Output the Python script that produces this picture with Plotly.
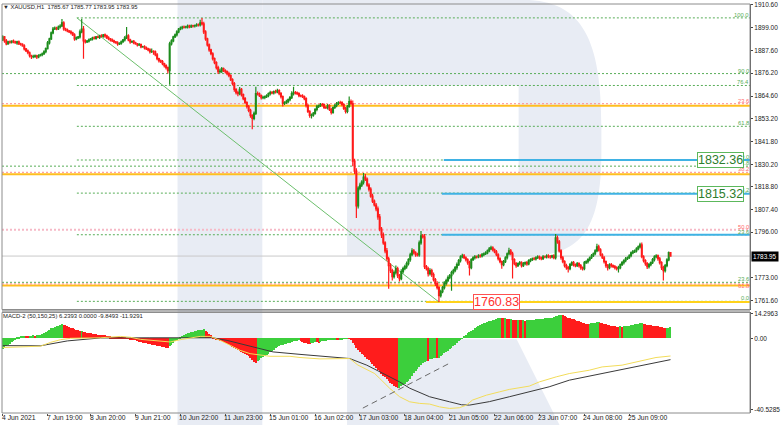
import plotly.graph_objects as go

# ---------------- DATA ----------------
first_open = 1893.0
closes = [
    1894.5, 1892.5, 1891.0, 1892.0, 1891.8, 1892.4, 1892.0, 1891.5, 1892.0, 1891.0,
    1890.8, 1890.0, 1888.5, 1887.5, 1886.5, 1885.0, 1884.5, 1884.6, 1885.0, 1884.4,
    1885.1, 1885.6, 1886.0, 1887.0, 1888.6, 1891.5, 1893.5, 1896.5, 1898.5, 1899.0,
    1898.6, 1899.5, 1900.0, 1901.6, 1898.5, 1898.0, 1897.5, 1897.0, 1896.5, 1895.5,
    1893.5, 1894.0, 1894.5, 1897.0, 1898.5, 1892.5, 1892.0, 1892.4, 1893.0, 1893.5,
    1894.0, 1893.8, 1894.5, 1894.3, 1895.0, 1894.8, 1895.5, 1895.0, 1894.0, 1893.5,
    1893.0, 1892.5, 1892.0, 1891.5, 1891.0, 1891.2, 1892.0, 1893.0, 1894.0, 1895.0,
    1893.0, 1892.0, 1892.2, 1891.5, 1891.0, 1890.5, 1890.6, 1889.5, 1889.6, 1889.0,
    1888.5, 1888.0, 1887.0, 1887.2, 1887.0, 1885.5, 1883.5, 1882.5, 1882.0, 1881.0,
    1880.0, 1879.0, 1877.5, 1891.0, 1892.5, 1894.5, 1895.5, 1897.0, 1898.5, 1899.0,
    1899.5, 1899.4, 1899.6, 1900.0, 1899.6, 1900.1, 1900.0, 1900.2, 1900.6, 1900.5,
    1901.6, 1901.1, 1897.0, 1893.5, 1890.5, 1888.0, 1886.0, 1883.5, 1881.5, 1879.0,
    1877.0, 1877.2, 1878.5, 1877.5, 1877.0, 1876.0, 1875.0, 1873.0, 1871.0, 1868.0,
    1866.4, 1865.9, 1868.0, 1865.4, 1863.4, 1861.4, 1859.4, 1857.4, 1854.9, 1853.4,
    1855.9, 1865.9, 1865.8, 1864.9, 1863.9, 1864.0, 1864.4, 1864.9, 1865.9, 1866.4,
    1866.3, 1866.9, 1866.8, 1867.4, 1865.9, 1864.4, 1860.9, 1861.4, 1861.9, 1862.9,
    1863.9, 1865.9, 1866.4, 1866.3, 1865.9, 1864.9, 1864.8, 1864.4, 1863.4, 1859.9,
    1856.9, 1854.9, 1855.0, 1855.9, 1857.9, 1859.4, 1859.9, 1860.4, 1860.3, 1858.9,
    1858.8, 1859.9, 1857.9, 1856.4, 1858.9, 1859.9, 1860.9, 1861.4, 1861.3, 1860.4,
    1858.4, 1856.9, 1859.4, 1861.9, 1860.9, 1831.8, 1826.8, 1809.2, 1818.2, 1819.7,
    1821.2, 1823.8, 1822.8, 1819.7, 1817.7, 1814.2, 1811.7, 1809.7, 1807.7, 1803.7,
    1797.6, 1794.6, 1790.6, 1786.6, 1782.6, 1779.1, 1776.6, 1773.6, 1775.6, 1777.6,
    1774.1, 1772.6, 1776.1, 1777.6, 1778.6, 1780.1, 1782.1, 1784.6, 1786.6, 1785.6,
    1784.6, 1784.5, 1790.6, 1794.1, 1793.6, 1778.6, 1777.6, 1775.1, 1776.6, 1774.6,
    1772.1, 1770.1, 1768.0, 1764.0, 1766.0, 1768.0, 1770.1, 1771.6, 1773.1, 1774.1,
    1775.6, 1776.6, 1778.1, 1779.6, 1781.6, 1783.6, 1784.1, 1783.1, 1782.1, 1780.6,
    1778.1, 1782.1, 1783.1, 1783.6, 1783.5, 1784.1, 1784.0, 1784.6, 1785.1, 1785.6,
    1786.6, 1787.6, 1788.1, 1787.1, 1786.1, 1784.6, 1782.6, 1781.1, 1779.6, 1781.1,
    1783.1, 1785.1, 1786.6, 1785.1, 1782.1, 1780.1, 1779.1, 1780.1, 1780.6, 1779.1,
    1780.1, 1780.6, 1780.0, 1781.6, 1782.1, 1782.6, 1782.5, 1783.1, 1783.6, 1783.0,
    1782.6, 1783.6, 1783.5, 1784.1, 1783.6, 1783.5, 1784.0, 1783.1, 1793.1, 1791.1,
    1786.6, 1783.1, 1781.1, 1779.1, 1778.1, 1777.6, 1779.6, 1780.6, 1779.6, 1779.1,
    1780.1, 1779.1, 1778.1, 1777.6, 1780.6, 1781.1, 1782.1, 1783.1, 1784.1, 1785.1,
    1786.6, 1788.6, 1787.1, 1784.6, 1783.1, 1781.1, 1779.1, 1778.1, 1779.6, 1779.1,
    1778.6, 1778.1, 1777.6, 1778.1, 1779.6, 1780.6, 1781.6, 1782.6, 1783.1, 1784.1,
    1785.6, 1786.1, 1786.6, 1787.6, 1788.6, 1789.6, 1783.6, 1781.6, 1780.1, 1778.6,
    1779.6, 1780.6, 1782.1, 1783.6, 1784.1, 1782.6, 1780.6, 1778.1, 1776.6, 1779.1,
    1782.0, 1785.67, 1783.95,
]
wick_hi = [
    0.8, 0.5, 0.9, 0.6, 0.7, 0.4, 0.8, 0.6, 0.5, 0.7,
    0.6, 0.5, 0.8, 0.4, 0.6, 0.7, 0.5, 0.9, 0.6, 0.5,
    0.7, 0.4, 0.6, 0.8, 0.5, 0.9, 0.6, 0.7, 1.0, 0.8,
    0.6, 0.7, 0.9, 1.9, 0.8, 0.6, 0.7, 0.5, 0.8, 0.6,
    0.9, 0.7, 0.5, 1.2, 5.1, 1.5, 0.8, 0.6, 0.7, 0.5,
    0.6, 0.8, 0.5, 0.7, 0.6, 0.9, 0.5, 0.7, 0.6, 0.8,
    0.5, 0.7, 0.6, 0.4, 0.8, 0.6, 0.7, 0.5, 0.9, 4.5,
    0.8, 0.6, 0.5, 0.7, 0.6, 0.4, 0.8, 0.6, 0.5, 0.7,
    0.6, 0.5, 0.8, 1.4, 0.6, 0.7, 0.9, 0.5, 0.6, 0.8,
    0.5, 0.7, 0.6, 1.0, 0.8, 0.6, 0.7, 0.9, 0.5, 0.8,
    0.6, 0.7, 0.5, 0.8, 0.6, 0.7, 0.5, 0.6, 0.8, 0.7,
    1.5, 2.5, 1.0, 0.8, 0.6, 0.7, 0.5, 0.8, 0.6, 0.7,
    0.9, 1.2, 0.8, 0.6, 0.7, 0.5, 0.9, 0.6, 0.7, 0.8,
    0.6, 0.9, 1.2, 0.7, 0.5, 0.8, 0.6, 0.7, 0.9, 0.6,
    1.0, 3.5, 1.0, 0.7, 0.6, 0.8, 0.5, 0.7, 0.6, 0.9,
    0.8, 0.6, 0.9, 1.0, 0.7, 0.8, 0.6, 0.7, 0.9, 0.5,
    0.8, 1.2, 3.0, 0.8, 0.6, 0.7, 0.5, 0.8, 0.6, 0.7,
    0.9, 0.6, 0.8, 0.7, 0.6, 0.9, 0.5, 0.8, 0.7, 0.6,
    0.8, 0.7, 0.6, 0.9, 0.5, 0.8, 0.7, 0.6, 0.9, 0.7,
    0.6, 0.8, 0.7, 2.5, 1.0, 1.5, 1.2, 1.5, 1.0, 1.2,
    1.0, 2.0, 1.5, 0.8, 1.0, 0.9, 1.2, 0.8, 1.0, 1.3,
    1.5, 1.0, 1.2, 0.8, 1.4, 1.0, 1.2, 0.9, 1.1, 1.6,
    1.0, 0.8, 1.2, 1.0, 0.9, 1.1, 0.8, 1.0, 1.3, 0.9,
    0.8, 1.0, 1.2, 2.5, 1.0, 1.5, 0.8, 1.0, 1.2, 0.9,
    1.0, 0.8, 1.2, 0.9, 1.0, 0.8, 1.1, 0.9, 1.0, 0.8,
    0.9, 1.0, 0.8, 1.1, 0.9, 0.8, 1.0, 0.9, 0.7, 0.8,
    1.0, 0.8, 0.7, 0.9, 0.6, 0.8, 0.7, 0.9, 0.6, 0.8,
    0.7, 0.9, 1.0, 0.8, 0.6, 0.9, 0.7, 0.8, 0.6, 0.9,
    0.8, 0.7, 1.5, 0.9, 1.0, 0.7, 0.8, 0.6, 0.9, 0.7,
    0.8, 0.6, 0.9, 0.7, 0.8, 0.6, 0.9, 0.7, 0.8, 0.6,
    0.7, 0.9, 0.6, 0.8, 0.7, 0.9, 0.6, 0.8, 2.0, 1.2,
    1.0, 0.8, 0.9, 0.7, 1.0, 0.8, 0.9, 0.7, 0.8, 0.6,
    0.9, 0.7, 0.8, 0.6, 0.9, 0.7, 0.8, 0.6, 0.9, 0.7,
    0.8, 1.5, 1.0, 0.8, 0.7, 0.9, 0.6, 0.8, 0.7, 0.9,
    0.6, 0.8, 0.7, 0.9, 0.6, 0.8, 0.7, 0.9, 0.6, 0.8,
    0.7, 0.9, 0.6, 0.8, 0.7, 1.0, 1.2, 0.8, 0.7, 0.9,
    0.8, 0.6, 0.9, 0.7, 0.8, 0.6, 0.9, 0.7, 1.0, 0.8,
    0.9, 0.6, 0.1,
]
wick_lo = [
    0.6, 0.9, 0.7, 0.5, 0.8, 0.6, 0.7, 0.5, 0.9, 0.6,
    0.7, 0.5, 0.8, 0.6, 0.7, 0.9, 1.2, 0.8, 0.6, 1.0,
    0.7, 0.5, 0.8, 0.6, 0.7, 0.5, 0.8, 0.6, 0.7, 0.5,
    0.8, 0.6, 0.7, 0.5, 0.9, 0.6, 0.7, 0.5, 0.8, 0.6,
    1.0, 0.7, 0.6, 0.8, 0.7, 9.0, 0.8, 0.6, 0.7, 0.5,
    0.8, 0.6, 0.7, 0.5, 0.8, 0.6, 0.7, 0.9, 0.6, 0.7,
    0.8, 0.6, 0.7, 0.5, 0.9, 0.6, 0.7, 0.5, 0.8, 0.6,
    0.7, 0.9, 0.6, 0.7, 0.5, 0.8, 0.6, 0.7, 0.5, 0.8,
    0.6, 0.7, 0.9, 0.6, 1.5, 0.7, 0.8, 0.9, 0.7, 0.8,
    0.9, 1.0, 1.5, 7.1, 0.8, 0.7, 0.6, 0.8, 0.7, 0.6,
    0.8, 0.7, 0.6, 0.8, 0.7, 0.6, 0.8, 0.7, 0.6, 0.8,
    0.7, 0.8, 1.0, 0.9, 0.8, 1.0, 0.7, 0.9, 0.8, 1.0,
    1.2, 0.8, 0.9, 0.7, 1.0, 0.8, 0.9, 0.7, 1.0, 1.2,
    0.9, 1.3, 0.8, 1.0, 0.9, 0.8, 1.0, 0.9, 1.2, 5.5,
    1.0, 0.8, 0.9, 0.7, 1.0, 0.8, 0.9, 0.7, 0.8, 0.9,
    0.7, 0.8, 0.9, 0.7, 0.8, 1.0, 1.5, 0.8, 0.7, 0.9,
    0.8, 0.7, 0.9, 0.8, 0.7, 0.9, 0.8, 0.7, 0.9, 1.0,
    0.8, 1.2, 1.5, 0.8, 0.7, 0.9, 0.8, 0.7, 0.9, 0.8,
    0.7, 0.9, 0.8, 1.0, 0.7, 0.8, 0.9, 0.7, 0.8, 0.9,
    0.8, 1.0, 0.9, 0.7, 0.8, 2.5, 1.5, 6.0, 1.2, 1.0,
    0.9, 1.1, 1.0, 0.8, 1.2, 0.9, 1.0, 0.8, 1.1, 1.4,
    1.2, 1.5, 1.0, 1.3, 1.0, 11.6, 1.2, 2.0, 1.0, 0.9,
    1.2, 1.5, 0.9, 1.0, 0.8, 1.1, 0.9, 1.0, 0.8, 0.9,
    1.0, 0.8, 0.9, 1.0, 0.8, 1.2, 1.0, 1.5, 1.0, 1.2,
    1.0, 1.2, 0.9, 3.17, 1.0, 0.8, 0.9, 1.0, 0.8, 0.9,
    7.6, 0.9, 0.8, 1.0, 0.7, 0.9, 0.8, 0.7, 0.9, 1.0,
    4.0, 0.8, 0.7, 0.9, 0.8, 0.7, 0.9, 0.8, 0.7, 0.6,
    0.8, 0.7, 0.6, 0.9, 0.8, 0.7, 0.9, 0.8, 2.0, 0.8,
    0.7, 0.9, 0.8, 0.7, 9.5, 0.8, 1.0, 0.7, 0.8, 0.9,
    0.7, 0.8, 0.9, 0.7, 0.8, 0.6, 0.7, 0.8, 0.6, 0.9,
    0.8, 0.7, 0.6, 0.8, 0.7, 0.9, 0.6, 0.8, 0.9, 1.0,
    0.9, 1.0, 0.8, 0.9, 1.0, 2.0, 0.8, 0.7, 0.9, 0.8,
    0.7, 0.9, 1.0, 1.0, 0.8, 0.7, 0.9, 0.8, 0.7, 0.6,
    0.8, 0.7, 0.9, 0.8, 0.7, 0.9, 1.0, 1.5, 0.8, 0.9,
    0.7, 0.9, 1.0, 2.0, 0.8, 0.7, 0.9, 0.8, 0.7, 0.6,
    0.8, 0.7, 0.6, 0.8, 0.7, 0.9, 0.8, 0.9, 1.0, 1.2,
    0.9, 0.8, 0.7, 0.9, 0.8, 1.0, 0.9, 1.2, 5.0, 0.9,
    0.8, 0.7, 0.0,
]
macd_hist = [
    -6.0, -5.3, -4.6, -3.8, -3.0, -2.2, -1.4, -0.6, 0.3, 0.9,
    1.3, 1.5, 1.6, 1.5, 1.4, 1.5, 1.6, 1.7, 1.6, 1.8,
    1.9, 2.1, 2.5, 3.0, 3.6, 4.3, 5.0, 5.7, 6.2, 6.7,
    7.0, 7.3, 7.6, 8.0, 7.8, 7.4, 7.0, 6.6, 6.2, 5.8,
    5.3, 4.9, 4.5, 4.2, 4.3, 3.7, 3.4, 3.2, 3.0, 2.8,
    2.6, 2.5, 2.3, 2.2, 2.1, 2.0, 1.9, 1.7, 1.5, 1.3,
    1.1, 1.0, 0.9, 0.8, 0.6, 0.5, 0.4, 0.3, 0.2, 0.1,
    -0.3, -0.5, -0.7, -0.9, -1.1, -1.5, -2.0, -2.3, -2.5, -2.7,
    -2.9, -3.1, -3.4, -3.6, -3.8, -4.0, -4.2, -4.4, -4.6, -4.8,
    -5.0, -5.3, -5.7, -4.5, -3.6, -2.6, -1.6, -0.8, 0.1, 0.8,
    1.4, 2.0, 2.5, 2.9, 3.3, 3.6, 3.9, 4.1, 4.3, 4.5,
    4.7, 4.9, 5.1, 4.3, 3.4, 2.6, 1.8, 0.8, -0.2, -0.6,
    -1.0, -1.3, -1.6, -2.0, -2.4, -3.0, -3.6, -4.2, -4.8, -5.4,
    -6.0, -6.6, -7.3, -7.9, -8.5, -9.1, -9.7, -10.3, -11.0, -12.2,
    -13.5, -14.3, -13.2, -12.3, -11.5, -10.8, -10.1, -9.4, -8.7, -8.0,
    -7.2, -6.4, -5.6, -5.0, -4.2, -3.9, -3.6, -3.3, -3.0, -2.7,
    -2.4, -2.1, -1.8, -1.6, -1.4, -1.2, -1.6, -2.1, -2.5, -2.8,
    -3.0, -3.1, -2.8, -2.4, -2.0, -2.2, -2.5, -2.2, -1.8, -1.5,
    -1.3, -1.1, -1.0, -0.8, -0.7, -0.6, -0.8, -1.0, -0.7, -0.5,
    -0.3, -0.2, -0.1, -0.2, -1.0, -2.6, -4.0, -5.4, -6.5, -7.6,
    -8.7, -9.8, -10.8, -11.8, -12.4, -13.4, -14.6, -15.8, -17.0, -18.2,
    -19.4, -20.4, -21.3, -22.3, -23.4, -24.5, -25.4, -26.3, -27.1, -27.9,
    -28.6, -28.3, -27.6, -26.8, -25.9, -25.1, -24.4, -23.4, -21.8, -20.0,
    -18.7, -17.5, -16.2, -15.2, -14.3, -13.6, -12.8, -13.0, -12.0, -11.6,
    -11.3, -11.1, -11.4, -11.0, -10.2, -9.4, -8.6, -7.8, -7.0, -6.2,
    -5.3, -4.5, -3.6, -2.6, -1.6, -0.7, 0.1, 1.3, 2.1, 2.8,
    3.4, 4.2, 5.0, 5.8, 6.4, 7.0, 7.4, 8.0, 8.6, 9.0,
    9.4, 9.8, 10.1, 10.4, 10.7, 11.1, 11.5, 11.8, 11.6, 11.4,
    11.5, 11.2, 11.0, 11.1, 10.8, 10.7, 10.5, 10.6, 10.4, 10.3,
    10.4, 10.2, 10.3, 10.4, 10.5, 10.6, 10.7, 10.9, 11.0, 11.1,
    11.2, 11.3, 11.4, 11.5, 11.6, 11.7, 11.9, 12.1, 12.6, 13.0,
    13.3, 13.6, 13.2, 12.7, 12.3, 11.9, 11.6, 11.2, 10.9, 10.5,
    10.2, 9.8, 9.4, 9.0, 8.8, 8.5, 8.2, 8.4, 8.6, 8.8,
    9.0, 9.2, 9.3, 9.0, 8.7, 8.4, 8.1, 7.8, 7.6, 7.3,
    7.1, 6.9, 6.7, 6.6, 6.8, 6.7, 6.9, 7.0, 7.1, 7.3,
    7.5, 7.8, 8.0, 8.2, 8.4, 8.6, 8.7, 8.4, 8.1, 7.8,
    7.6, 7.4, 7.3, 7.1, 7.0, 6.8, 6.6, 6.4, 6.2, 6.0,
    6.1, 6.2, 6.2393,
]
signal_idx = [0, 21, 36, 54.4, 82, 110, 117, 125, 139.4, 150.6, 165.6, 183.9, 193.3,
              202.8, 211.7, 221.1, 226.7, 237.8, 248.9, 255.6, 260, 271.1, 282.2,
              293.3, 304.4, 315.6, 326.7, 337.8, 348.9, 360, 372]
signal_vals = [-3.9, -4.0, -1.2, 0.5, 0.6, 0.7, 0.6, -0.9, -4.7, -7.5, -8.9, -10.7, -11.3,
               -15.1, -19.9, -24.7, -28.3, -33.2, -36.1, -37.8, -38.0, -36.0, -33.2,
               -30.4, -27.5, -23.7, -21.4, -19.0, -17.0, -14.6, -11.9291]
macd_idx = [0, 21.1, 26.7, 32.2, 37.8, 54.4, 65.6, 71.1, 76.7, 87.8, 93.3, 98.9, 110,
            115.6, 121.1, 126.7, 132.2, 137.8, 143.3, 148.9, 160, 165.6, 176.7, 187.8,
            193.3, 197.8, 201.7, 204.4, 207.2, 210, 212.8, 215.6, 221.1, 226.7, 232.2,
            237.8, 243.3, 248.9, 254.4, 258.3, 261.7, 269.4, 276.7, 282.2, 293.3, 298.9,
            308.3, 315.6, 326.7, 333.9, 345, 356.1, 363.9, 372]
macd_vals = [-5.0, -4.2, -2.0, -0.5, 0.3, 0.6, 1.4, 0.9, -0.3, -1.2, -1.8, -0.5, 1.4,
             1.4, -0.9, -3.7, -6.6, -8.5, -9.4, -10.0, -10.0, -10.7, -11.5, -11.5,
             -11.3, -15.0, -17.0, -18.0, -19.9, -22.7, -25.6, -28.4, -33.2, -36.1, -37.0,
             -37.4, -39.0, -39.9, -39.5, -38.0, -35.1, -32.3, -30.4, -29.0, -27.1, -24.7,
             -21.8, -19.9, -18.0, -16.1, -15.1, -12.3, -10.7, -9.8493]

time_tick_idx = [0, 25, 49, 74, 99, 124, 149, 174, 199, 224, 249, 274, 299, 324, 349]
time_tick_text = ["4 Jun 2021", "7 Jun 19:00", "8 Jun 20:00", "9 Jun 21:00", "10 Jun 22:00",
                  "11 Jun 23:00", "15 Jun 01:00", "16 Jun 02:00", "17 Jun 03:00",
                  "18 Jun 04:00", "21 Jun 05:00", "22 Jun 06:00", "23 Jun 07:00",
                  "24 Jun 08:00", "25 Jun 09:00"]
price_ticks = [1910.60, 1899.00, 1887.60, 1876.20, 1864.60, 1853.20, 1841.80, 1830.20,
               1818.80, 1807.40, 1796.00, 1773.00, 1761.60]
macd_ticks = [14.2963, 0.0, -40.5285]
macd_tick_text = ["14.2963", "0.00", "-40.5285"]

# drawing objects (analysis levels)
trend_idx = [41.3, 242.9]
trend_price = [1904.1, 1760.83]
fibA_start = 41.3
fibA_prices = [1904.1, 1870.0, 1849.4, 1832.4, 1815.7, 1794.7, 1761.1]
fibA_labels = ["100.0", "76.4", "61.8", "50.0", "38.2", "23.6", "0.0"]
fibB_prices = [1876.0, 1829.3, 1770.7]
fibB_labels = ["90.0", "61.8", "23.6"]
fibC_prices = [1860.8, 1826.2, 1797.2, 1769.9]
fibC_labels = ["23.6", "38.2", "50.0", "61.8"]
orange_levels = [1859.8, 1825.2, 1769.1]
target_prices = [1832.36, 1815.32, 1794.7]
target_start = [245.7, 244.6, 244.6]
low_price = 1760.83
low_line_start = 235.7
last_price = 1783.95
header_text = "\u25bc XAUUSD,H1  1785.67 1785.77 1783.95 1783.95"
macd_header = "MACD-2 (50,150,25) 6.2393 0.0000 -9.8493 -11.9291"

# ---------------- BUILD ----------------
N = min(len(closes), len(wick_hi), len(wick_lo), len(macd_hist))
closes = closes[:N]
xs = list(range(N))
opens = [first_open] + closes[:-1]
highs = [max(o, c) + w for o, c, w in zip(opens, closes, wick_hi[:N])]
lows = [min(o, c) - w for o, c, w in zip(opens, closes, wick_lo[:N])]

hist = macd_hist[:N]
hist_colors = []
for i, v in enumerate(hist):
    prev = hist[i - 1] if i > 0 else v - 1
    hist_colors.append("#3ccf3c" if v >= prev else "#ff1c1c")

# layout geometry (pixels)
W, H = 782, 425
L, R, T, B = 2, 30, 2, 12
PW, PH = W - L - R, H - T - B
PX_PER_BAR = 1.8
X0 = -0.4
X1 = X0 + PW / PX_PER_BAR
MAIN_TOP, MAIN_BOT = 2, 309
MACD_TOP, MACD_BOT = 312, 413


def py(y):
    return (H - B - y) / PH


def px(x):
    return (x - L) / PW


main_range = [1911.1 - (MAIN_BOT - MAIN_TOP) / 1.992, 1911.1]
macd_range = [15.1 - (MACD_BOT - MACD_TOP) / 1.753, 15.1]

FONT = "Liberation Sans, Arial, sans-serif"
GREEN_LVL = "#58ad58"
RED_LVL = "#ff6b6b"

fig = go.Figure()
fig.add_trace(go.Candlestick(
    x=xs, open=opens, high=highs, low=lows, close=closes,
    increasing=dict(line=dict(color="#1d8c1d", width=1.2), fillcolor="#1d8c1d"),
    decreasing=dict(line=dict(color="#ff1a1a", width=1.2), fillcolor="#ff1a1a"),
    whiskerwidth=0, xaxis="x", yaxis="y", hoverinfo="skip", showlegend=False))

fig.add_trace(go.Bar(x=xs, y=hist, marker=dict(color=hist_colors, line=dict(width=0)),
                     width=0.62, xaxis="x2", yaxis="y2", showlegend=False, hoverinfo="skip"))
fig.add_trace(go.Scatter(x=signal_idx, y=signal_vals, mode="lines",
                         line=dict(color="#3a3a3a", width=1), xaxis="x2", yaxis="y2",
                         showlegend=False, hoverinfo="skip"))
fig.add_trace(go.Scatter(x=macd_idx, y=macd_vals, mode="lines",
                         line=dict(color="#f2dc5a", width=1), xaxis="x2", yaxis="y2",
                         showlegend=False, hoverinfo="skip"))

shapes = []
WM = "#e8ecf4"
# watermark "R"
shapes.append(dict(type="rect", xref="paper", yref="paper", x0=px(178), x1=px(263),
                   y0=py(427), y1=py(-2), fillcolor=WM, line=dict(width=0), layer="below"))
bowl = ("M {a},{b} L {c},{b} C {d},{b} {e},{f} {e},{g} L {e},{h} "
        "C {e},{i} {d},{j} {c2},{j} L {k},{j} L {k},{l} L {m},{l} L {m},{n} L {a},{n} Z").format(
    a=px(263), b=py(-2), c=px(525), d=px(585), e=px(603), f=py(40), g=py(125),
    h=py(150), i=py(225), j=py(255), c2=px(530), k=px(348), l=py(172), m=px(520), n=py(84))
shapes.append(dict(type="path", xref="paper", yref="paper", path=bowl, fillcolor=WM,
                   line=dict(width=0), layer="below"))
leg = "M {a},{b} L {c},{b} L {d},{e} L {a},{e} Z".format(
    a=px(348), b=py(339), c=px(518), d=px(562), e=py(427))
shapes.append(dict(type="path", xref="paper", yref="paper", path=leg, fillcolor=WM,
                   line=dict(width=0), layer="below"))


def hline(y, x0, x1, color, width, dash="solid"):
    return dict(type="line", xref="x", yref="y", x0=x0, x1=x1, y0=y, y1=y,
                line=dict(color=color, width=width, dash=dash), layer="below")


DOT = "2px,2px"
shapes.append(hline(last_price, X0, X1, "#c9c9c9", 1))
for p in fibB_prices:
    shapes.append(hline(p, X0, X1, GREEN_LVL, 1, DOT))
for p in fibA_prices:
    shapes.append(hline(p, fibA_start, X1, GREEN_LVL, 1, DOT))
for p in orange_levels:
    shapes.append(hline(p, X0, X1, "#ffbf1f", 2))
for p in fibC_prices:
    if p == fibC_prices[2]:
        shapes.append(hline(p, X0, X1, "#f6b9c6", 2, DOT))
    else:
        shapes.append(hline(p, X0, X1, "#ff8a8a", 1, DOT))
for p, s in zip(target_prices, target_start):
    shapes.append(hline(p, s, X1, "#3fb2e4", 2))
shapes.append(hline(low_price, low_line_start, X1, "#ffd21a", 2))
shapes.append(dict(type="line", xref="x", yref="y", x0=trend_idx[0], x1=trend_idx[1],
                   y0=trend_price[0], y1=trend_price[1],
                   line=dict(color="#6cbf6c", width=1), layer="below"))
# MACD dashed trendline
shapes.append(dict(type="line", xref="x2", yref="y2", x0=200.6, x1=250, y0=-39.7, y1=-13.4,
                   line=dict(color="#6a6a6a", width=1, dash="6px,4px"), layer="above"))
# panel frames
shapes.append(dict(type="rect", xref="paper", yref="paper", x0=0, x1=1, y0=py(MAIN_BOT), y1=1,
                   line=dict(color="#8c8c8c", width=1), fillcolor="rgba(0,0,0,0)", layer="above"))
shapes.append(dict(type="rect", xref="paper", yref="paper", x0=0, x1=1, y0=0, y1=py(MACD_TOP),
                   line=dict(color="#8c8c8c", width=1), fillcolor="rgba(0,0,0,0)", layer="above"))
shapes.append(dict(type="line", xref="paper", yref="paper", x0=0, x1=1, y0=py(310.5), y1=py(310.5),
                   line=dict(color="#707070", width=1), layer="above"))

ann = []
for t, i in zip(time_tick_text, time_tick_idx):
    ann.append(dict(x=i, y=py(418), xref="x2", yref="paper", text=t, showarrow=False,
                    xanchor="left", yanchor="middle", xshift=-2, borderpad=0,
                    font=dict(family=FONT, size=6.8, color="#222")))


def flabel(text, price, color, yanchor="bottom", yshift=-1):
    return dict(x=1, y=price, xref="paper", yref="y", text=text, showarrow=False,
                xanchor="right", yanchor=yanchor, xshift=0, yshift=yshift,
                font=dict(family=FONT, size=5.8, color=color), borderpad=0)


for t, p in zip(fibA_labels, fibA_prices):
    ann.append(flabel(t, p, GREEN_LVL))
for t, p in zip(fibB_labels, fibB_prices):
    ann.append(flabel(t, p, GREEN_LVL))
for t, p in zip(fibC_labels, fibC_prices):
    if t == "61.8":
        ann.append(flabel(t, p, RED_LVL, "top", 2))
    else:
        ann.append(flabel(t, p, RED_LVL))

for p in target_prices[:2]:
    ann.append(dict(x=px(722), y=p, xref="paper", yref="y", text=f"{p:.2f}", showarrow=False,
                    xanchor="center", yanchor="middle",
                    font=dict(family=FONT, size=12.5, color="#2d7d2d"),
                    bgcolor="white", bordercolor="#5cb85c", borderwidth=1, borderpad=0))
ann.append(dict(x=px(498), y=low_price, xref="paper", yref="y", text=f"{low_price:.2f}",
                showarrow=False, xanchor="center", yanchor="middle",
                font=dict(family=FONT, size=12.5, color="#ff3030"),
                bgcolor="white", bordercolor="#ff5050", borderwidth=1, borderpad=0))
ann.append(dict(x=1, y=last_price, xref="paper", yref="y", text=f"{last_price:.2f}",
                showarrow=False, xanchor="left", yanchor="middle", xshift=1,
                font=dict(family=FONT, size=6.4, color="white"), bgcolor="black", borderpad=1))
ann.append(dict(x=px(2), y=py(5.5), xref="paper", yref="paper", text=header_text,
                showarrow=False, xanchor="left", yanchor="middle", borderpad=0,
                font=dict(family=FONT, size=5.9, color="#222")))
ann.append(dict(x=px(2), y=py(316), xref="paper", yref="paper", text=macd_header,
                showarrow=False, xanchor="left", yanchor="middle", borderpad=0,
                font=dict(family=FONT, size=5.9, color="#222")))

fig.update_layout(
    width=W, height=H, margin=dict(l=L, r=R, t=T, b=B),
    paper_bgcolor="white", plot_bgcolor="rgba(0,0,0,0)",
    showlegend=False, bargap=0, hovermode=False,
    xaxis=dict(domain=[0, 1], anchor="y", range=[X0, X1], showgrid=False, zeroline=False,
               showticklabels=False, ticks="", rangeslider=dict(visible=False), showline=False),
    xaxis2=dict(domain=[0, 1], anchor="y2", range=[X0, X1], matches="x", showgrid=False,
                zeroline=False, showticklabels=False, tickvals=time_tick_idx, ticks="outside",
                ticklen=2, tickcolor="#555", showline=False),
    yaxis=dict(domain=[py(MAIN_BOT), 1], anchor="x", range=main_range, side="right",
               showgrid=False, zeroline=False, tickvals=price_ticks,
               ticktext=[f"{v:.2f}" for v in price_ticks], ticks="outside", ticklen=2,
               tickcolor="#444", showline=True, linecolor="#555", linewidth=1,
               tickfont=dict(family=FONT, size=6.5, color="#222")),
    yaxis2=dict(domain=[0, py(MACD_TOP)], anchor="x2", range=macd_range, side="right",
                showgrid=False, zeroline=False, tickvals=macd_ticks, ticktext=macd_tick_text,
                ticks="outside", ticklen=2, tickcolor="#444", showline=True, linecolor="#555",
                linewidth=1, tickfont=dict(family=FONT, size=6.5, color="#222")),
    shapes=shapes, annotations=ann,
)

fig.write_html("out.html", config={"displayModeBar": False},
               post_script="document.body.style.margin='0';document.body.style.padding='0';"
                           "document.body.style.overflow='hidden';")
